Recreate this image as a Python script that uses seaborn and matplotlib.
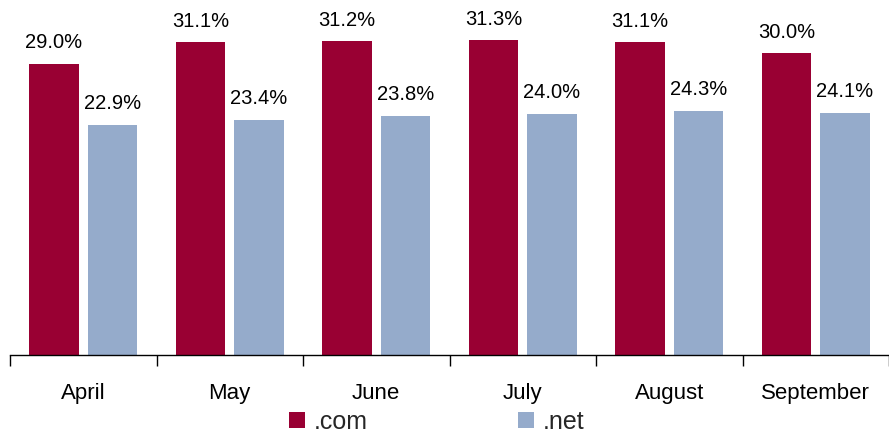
import matplotlib
matplotlib.use("Agg")
import matplotlib.pyplot as plt
import numpy as np
import pandas as pd
import seaborn as sns
from matplotlib.patches import Patch

# Monthly share by domain (%)
months = ["April", "May", "June", "July", "August", "September"]
com_share = [29.0, 31.1, 31.2, 31.3, 31.1, 30.0]
net_share = [22.9, 23.4, 23.8, 24.0, 24.3, 24.1]
domains = [".com", ".net"]
colors = ["#990033", "#95ABCB"]

df = pd.DataFrame({
    "month": months * 2,
    "domain": [domains[0]] * len(months) + [domains[1]] * len(months),
    "share": com_share + net_share,
})

sns.set_theme(style="white")
plt.rcParams["font.family"] = ["Liberation Sans", "DejaVu Sans"]

fig = plt.figure(figsize=(8.89, 4.35), dpi=100)
ax = fig.add_axes([10 / 889, 79 / 435, 879 / 889, 356 / 435])

sns.barplot(
    data=df, x="month", y="share", hue="domain",
    order=months, hue_order=domains, palette=colors,
    saturation=1, width=0.8, gap=0.15, linewidth=0,
    legend=False, ax=ax,
)

# Value labels above each bar
for container, values in zip(ax.containers, [com_share, net_share]):
    ax.bar_label(container, labels=[f"{v:.1f}%" for v in values],
                 padding=9, fontsize=14.5, color="black")

ax.set_xlim(-0.5, -0.5 + 879 / 148)
ax.set_ylim(0, 35.42)
ax.set_xlabel("")
ax.set_ylabel("")
ax.set_yticks([])

for side in ["left", "top", "right"]:
    ax.spines[side].set_visible(False)
ax.spines["bottom"].set_color("black")
ax.spines["bottom"].set_linewidth(1)

# Ticks on category boundaries, labels centred on each category
ax.set_xticks(np.arange(-0.5, len(months), 1.0))
ax.set_xticklabels([])
ax.set_xticks(np.arange(len(months)), minor=True)
ax.set_xticklabels(months, minor=True, fontsize=16, color="black")
ax.tick_params(axis="x", which="major", bottom=True, direction="out",
               length=8, width=1, color="black")
ax.tick_params(axis="x", which="minor", bottom=True, length=0, pad=19.5)

handles = [Patch(facecolor=c, edgecolor="none", label=d)
           for c, d in zip(colors, domains)]
fig.legend(handles=handles, loc="center",
           bbox_to_anchor=(436.5 / 889, 12.5 / 435), ncol=2, frameon=False,
           fontsize=18, handlelength=0.64, handleheight=0.6,
           handletextpad=0.36, columnspacing=6.0, borderpad=0,
           borderaxespad=0)

fig.savefig("out.png", dpi=100)
